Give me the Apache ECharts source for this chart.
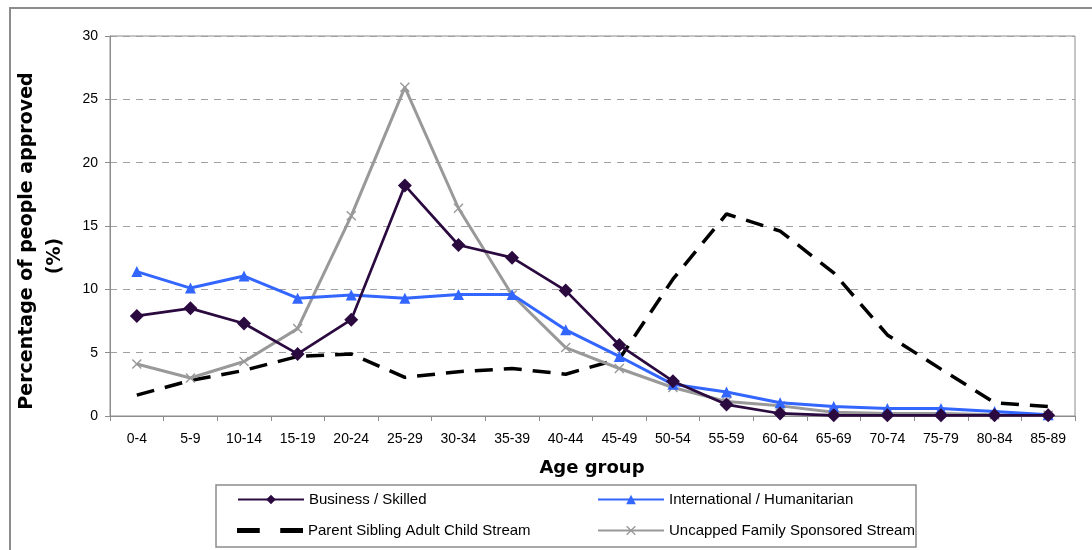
<!DOCTYPE html>
<html>
<head>
<meta charset="utf-8">
<script src="https://cdn.jsdelivr.net/npm/echarts@6/dist/echarts.min.js"></script>
<style>
html,body{margin:0;padding:0;background:#fff;}
#chart{width:1092px;height:550px;}
</style>
</head>
<body>
<div id="chart"></div>
<script>
var categories = ['0-4','5-9','10-14','15-19','20-24','25-29','30-34','35-39','40-44','45-49','50-54','55-59','60-64','65-69','70-74','75-79','80-84','85-89'];
var businessSkilled = [7.9,8.5,7.3,4.9,7.6,18.2,13.5,12.5,9.9,5.6,2.75,0.9,0.2,0.05,0.05,0.05,0.05,0.05];
var internationalHumanitarian = [11.4,10.1,11.05,9.3,9.55,9.3,9.6,9.6,6.8,4.7,2.5,1.9,1.05,0.75,0.6,0.6,0.35,0.1];
var parentSibling = [1.65,2.8,3.6,4.7,4.9,3.05,3.5,3.75,3.3,4.5,10.8,15.95,14.6,11.3,6.4,3.7,1.05,0.75];
var uncappedFamily = [4.1,3.0,4.3,6.9,15.8,25.95,16.4,9.55,5.4,3.75,2.25,1.15,0.8,0.3,0.2,0.2,0.1,0.05];
var seriesNames = ['Business / Skilled','International / Humanitarian','Parent Sibling Adult Child Stream','Uncapped Family Sponsored Stream'];
var yTicks = {min:0, max:30, interval:5};

var chart = echarts.init(document.getElementById('chart'), null, {renderer:'canvas'});
var xCross = 'path://M0,1L1,0L5,4L9,0L10,1L6,5L10,9L9,10L5,6L1,10L0,9L4,5Z';
var dashIcon = 'path://M0,0H20V4.5H0Z M38,0H58V4.5H38Z';
var legendText = {fontFamily:'Liberation Sans', fontSize:15, color:'#000'};
function leg(item, left, top){
  return {data:[item], left:left, top:top, orient:'horizontal', itemWidth:66, itemHeight:12, itemGap:4,
    textStyle:legendText, padding:0, selectedMode:false};
}
var option = {
  animation:false,
  backgroundColor:'#fff',
  grid:{left:110, right:17, top:36, bottom:134, show:true, borderColor:'#8c8c8c', borderWidth:1, containLabel:false},
  legend:[
    leg(seriesNames[0], 237, 492),
    leg(seriesNames[1], 597, 492),
    leg({name:seriesNames[2], icon:dashIcon, itemStyle:{color:'#000'}}, 237, 523),
    leg(seriesNames[3], 597, 523)
  ],
  xAxis:{
    type:'category', data:categories, boundaryGap:true,
    axisLine:{show:true, lineStyle:{color:'#8c8c8c', width:1}},
    axisTick:{show:true, length:5, inside:false, lineStyle:{color:'#8c8c8c'}},
    axisLabel:{margin:16, fontFamily:'Liberation Sans', fontSize:14, color:'#000', interval:0},
    splitLine:{show:false}
  },
  yAxis:{
    type:'value', min:yTicks.min, max:yTicks.max, interval:yTicks.interval,
    axisLine:{show:true, lineStyle:{color:'#8c8c8c', width:1}},
    axisTick:{show:true, length:5, lineStyle:{color:'#8c8c8c'}},
    axisLabel:{margin:12, fontFamily:'Liberation Sans', fontSize:14, color:'#000'},
    splitLine:{show:true, lineStyle:{color:'#a0a0a0', type:[7,6], width:1}}
  },
  graphic:[
    {type:'rect', shape:{x:10, y:8, width:1100, height:600}, style:{fill:'none', stroke:'#8c8c8c', lineWidth:2}, silent:true, z:-1},
    {type:'rect', shape:{x:216, y:485, width:700, height:62}, style:{fill:'#fff', stroke:'#8c8c8c', lineWidth:1.5}, silent:true, z:-1},
    {type:'text', x:27, y:241, rotation:Math.PI/2, style:{text:'Percentage of people approved', fontFamily:'DejaVu Sans', fontWeight:'bold', fontSize:19, fill:'#000', textAlign:'center', textVerticalAlign:'middle'}},
    {type:'text', x:55, y:256, rotation:Math.PI/2, style:{text:'(%)', fontFamily:'DejaVu Sans', fontWeight:'bold', fontSize:19, fill:'#000', textAlign:'center', textVerticalAlign:'middle'}},
    {type:'text', x:592, y:468, style:{text:'Age group', fontFamily:'DejaVu Sans', fontWeight:'bold', fontSize:18, fill:'#000', textAlign:'center', textVerticalAlign:'middle'}}
  ],
  series:[
    {name:seriesNames[2], type:'line', data:parentSibling, symbol:'none', z:2,
      lineStyle:{color:'#000', width:3.5, type:[18,11]}, itemStyle:{color:'#000'}},
    {name:seriesNames[3], type:'line', data:uncappedFamily, symbol:xCross, symbolSize:10, z:3,
      lineStyle:{color:'#999', width:3}, itemStyle:{color:'#999'}},
    {name:seriesNames[1], type:'line', data:internationalHumanitarian, symbol:'triangle', symbolSize:11, z:4,
      lineStyle:{color:'#3366ff', width:3}, itemStyle:{color:'#3366ff'}},
    {name:seriesNames[0], type:'line', data:businessSkilled, symbol:'diamond', symbolSize:14, z:5,
      lineStyle:{color:'#2b0a40', width:2.7}, itemStyle:{color:'#2b0a40'}}
  ]
};
chart.setOption(option);
</script>
</body>
</html>
